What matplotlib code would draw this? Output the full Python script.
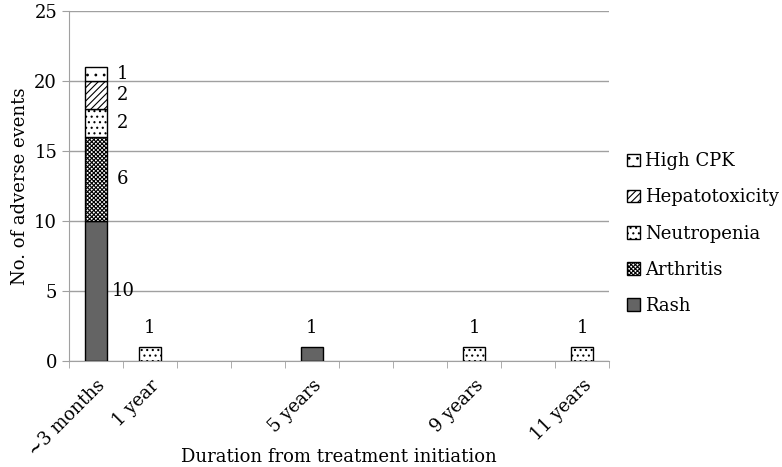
import matplotlib
matplotlib.use("Agg")
import matplotlib.pyplot as plt
import numpy as np

plt.rcParams['font.family'] = 'DejaVu Serif'
plt.rcParams['hatch.linewidth'] = 0.8

categories = ['~3 months', '1 year', '', '', '5 years', '', '', '9 years', '', '11 years']
rash = [10, 0, 0, 0, 1, 0, 0, 0, 0, 0]
arthritis = [6, 0, 0, 0, 0, 0, 0, 0, 0, 0]
neutropenia = [2, 1, 0, 0, 0, 0, 0, 1, 0, 1]
hepatotoxicity = [2, 0, 0, 0, 0, 0, 0, 0, 0, 0]
high_cpk = [1, 0, 0, 0, 0, 0, 0, 0, 0, 0]

series = [
    ("Rash", rash, '#646464', None),
    ("Arthritis", arthritis, 'white', 'xxxxxxxx'),
    ("Neutropenia", neutropenia, 'white', '...'),
    ("Hepatotoxicity", hepatotoxicity, 'white', '/////'),
    ("High CPK", high_cpk, 'white', '..'),
]

fig = plt.figure(figsize=(7.82, 4.67), dpi=100)
ax = fig.add_axes([0.0882, 0.227, 0.6906, 0.749])

x = np.arange(len(categories))
bottom = np.zeros(len(categories))
gray = '#a0a0a0'
for name, vals, fc, hatch in series:
    vals = np.array(vals, dtype=float)
    nz = vals > 0
    ax.bar(x[nz], vals[nz], width=0.41, bottom=bottom[nz], color=fc, edgecolor='black',
           linewidth=1.0, hatch=hatch, label=name, zorder=3)
    # segment labels on the first (stacked) bar
    if vals[0] > 0:
        ax.text(x[0] + 0.5, bottom[0] + vals[0] / 2, str(int(vals[0])),
                ha='center', va='center', fontsize=13)
    bottom += vals

for i in range(1, len(categories)):
    if bottom[i] > 0:
        ax.annotate(str(int(bottom[i])), (x[i], bottom[i]), xytext=(0, 7),
                    textcoords='offset points', ha='center', va='bottom', fontsize=13)

ax.set_xlim(-0.5, len(categories) - 0.5)
ax.set_ylim(0, 25)
ax.set_yticks(range(0, 26, 5))
ax.set_xticks(x)
ax.set_xticklabels(categories, rotation=45, ha='right', rotation_mode='anchor', fontsize=13)
ax.set_xticks(np.arange(-0.5, len(categories) + 0.5, 1), minor=True)
ax.tick_params(axis='x', which='major', length=0, pad=11)
ax.tick_params(axis='x', which='minor', length=5, color=gray)
ax.tick_params(axis='y', length=5, color=gray, labelsize=13)
ax.yaxis.grid(True, color=gray, linewidth=1.0, zorder=0)
ax.set_axisbelow(True)
for s in ['top', 'right']:
    ax.spines[s].set_visible(False)
for s in ['left', 'bottom']:
    ax.spines[s].set_color(gray)

ax.set_ylabel("No. of adverse events", fontsize=13)
ax.set_xlabel("Duration from treatment initiation", fontsize=13)
ax.xaxis.set_label_coords(0.5, -0.25)

handles, labels = ax.get_legend_handles_labels()
fig.legend(handles[::-1], labels[::-1], loc='center left', bbox_to_anchor=(0.802, 0.5),
           frameon=False, fontsize=13, handlelength=0.7, handleheight=0.7,
           handletextpad=0.3, labelspacing=1.0, borderpad=0, borderaxespad=0)

fig.savefig("out.png", dpi=100)
